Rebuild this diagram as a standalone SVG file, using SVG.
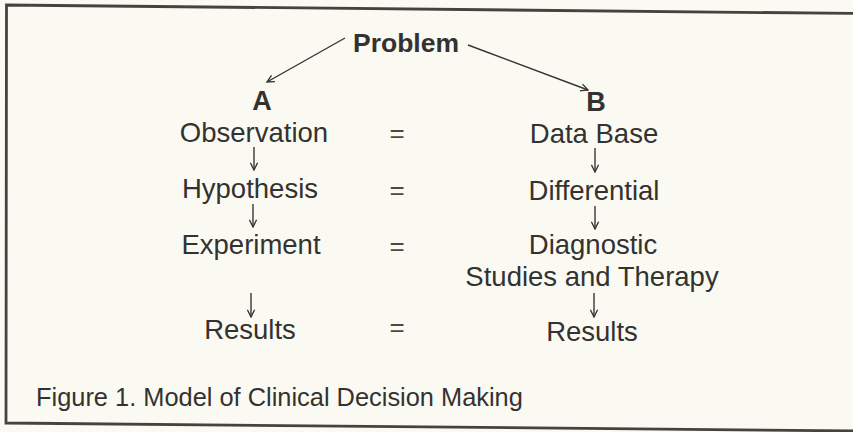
<svg xmlns="http://www.w3.org/2000/svg" width="853" height="432" viewBox="0 0 853 432">
  <style>
    .t { font-family: "Liberation Sans", Arial, sans-serif; font-size: 27.5px; fill: #333231; text-anchor: middle; }
    .b { font-family: "Liberation Sans", Arial, sans-serif; font-size: 26.5px; font-weight: bold; fill: #333231; text-anchor: middle; }
    .cap { font-family: "Liberation Sans", Arial, sans-serif; font-size: 25.4px; fill: #333231; }
    .eq { font-family: "Liberation Sans", Arial, sans-serif; font-size: 26px; fill: #4a4948; text-anchor: middle; }
    .link { stroke: #363534; stroke-width: 1.4; fill: none; marker-end: url(#head); }
  </style>
  <defs>
    <marker id="head" viewBox="0 0 10 10" refX="9" refY="5" markerWidth="9" markerHeight="9" markerUnits="userSpaceOnUse" orient="auto">
      <path d="M1,1 L9,5 L1,9" fill="none" stroke="#363534" stroke-width="1.5"/>
    </marker>
  </defs>

  <!-- paper -->
  <rect x="0" y="0" width="853" height="432" fill="#fbfaf2"/>

  <!-- frame, slightly skewed -->
  <path d="M 860 13.5 L 6.5 5 L 6 423 L 860 431" fill="none" stroke="#45433f" stroke-width="2.8"/>

  <!-- connectors -->
  <g id="connectors">
    <line class="link" x1="345" y1="38" x2="267" y2="82"/>
    <line class="link" x1="468" y1="45" x2="588" y2="90"/>
    <line class="link" x1="254" y1="147" x2="254" y2="170"/>
    <line class="link" x1="253" y1="204" x2="253" y2="227"/>
    <line class="link" x1="251" y1="293" x2="251" y2="317"/>
    <line class="link" x1="595" y1="148" x2="595" y2="172"/>
    <line class="link" x1="595" y1="206" x2="595" y2="229"/>
    <line class="link" x1="594" y1="293" x2="594" y2="317"/>
  </g>

  <g id="problem"><text class="b" x="406" y="52">Problem</text></g>
  <g id="branch-a"><text class="b" x="262" y="110" style="font-size:27px">A</text></g>
  <g id="branch-b"><text class="b" x="596" y="111" style="font-size:27px">B</text></g>

  <g id="observation"><text class="t" x="254" y="142">Observation</text></g>
  <g id="hypothesis"><text class="t" x="250" y="198">Hypothesis</text></g>
  <g id="experiment"><text class="t" x="251" y="254">Experiment</text></g>
  <g id="results-a"><text class="t" x="250" y="339">Results</text></g>

  <g id="equals">
    <text class="eq" x="397" y="142">=</text>
    <text class="eq" x="397" y="199">=</text>
    <text class="eq" x="397" y="255">=</text>
    <text class="eq" x="397" y="336">=</text>
  </g>

  <g id="data-base"><text class="t" x="594" y="143">Data Base</text></g>
  <g id="differential"><text class="t" x="594" y="200">Differential</text></g>
  <g id="diagnostic"><text class="t" x="593" y="254">Diagnostic<tspan x="592" y="286">Studies and Therapy</tspan></text></g>
  <g id="results-b"><text class="t" x="592" y="341">Results</text></g>

  <g id="caption"><text class="cap" x="36" y="406">Figure 1. Model of Clinical Decision Making</text></g>
</svg>
